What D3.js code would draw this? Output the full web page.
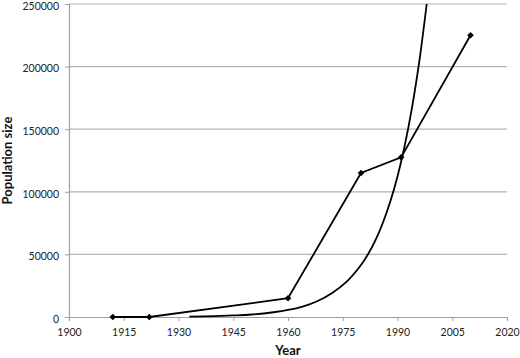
<!DOCTYPE html>
<html><head><meta charset="utf-8">
<script src="https://cdn.jsdelivr.net/npm/d3@7"></script>
<style>
html,body{margin:0;padding:0;background:#fff;}
svg{display:block;font-family:Lato,"Open Sans",sans-serif;}
</style></head>
<body>
<svg id="chart" width="520" height="358"></svg>
<script>
// Observed population (points with diamond markers)
const obsYears = [1912, 1922, 1960, 1980, 1991, 2010];
const obsValues = [0, 0, 15000, 115000, 127500, 225000];
// Model curve
const curveYears = [1933, 1940, 1945, 1950, 1956, 1960, 1964, 1968, 1972, 1976, 1980, 1982, 1984, 1986, 1988, 1990, 1992, 1994, 1996, 1998];
const curveValues = [300, 750, 1250, 2000, 3800, 5600, 8300, 12600, 19000, 28000, 41500, 50500, 61600, 75300, 92000, 112300, 137200, 167600, 204700, 250000];
const xTicks = [1900, 1915, 1930, 1945, 1960, 1975, 1990, 2005, 2020];
const yTicks = [0, 50000, 100000, 150000, 200000, 250000];

const svg = d3.select("#chart");
const mL = 69, mR = 507, mT = 4, mB = 317;
const x = d3.scaleLinear().domain([1900, 2020]).range([mL, mR]);
const y = d3.scaleLinear().domain([0, 250000]).range([mB, mT]);

// gridlines
svg.append("g").selectAll("line").data(yTicks.filter(d => d > 0)).join("line")
  .attr("x1", mL).attr("x2", mR)
  .attr("y1", d => y(d)).attr("y2", d => y(d))
  .attr("stroke", "#b4b4b4").attr("stroke-width", 1.2);

// y axis
const yAxis = svg.append("g").attr("transform", `translate(${mL},0)`)
  .call(d3.axisLeft(y).tickValues(yTicks).tickSize(4).tickPadding(6).tickFormat(d3.format("d")));
yAxis.select(".domain").attr("stroke", "#a0a0a0").attr("stroke-width", 1.2);
yAxis.selectAll(".tick line").attr("stroke", "#a0a0a0");
yAxis.selectAll("text").attr("font-size", 10.5).attr("dy", "0.5em").attr("fill", "#222").attr("font-family", "Lato,sans-serif");

// x axis
const xAxis = svg.append("g").attr("transform", `translate(0,${mB})`)
  .call(d3.axisBottom(x).tickValues(xTicks).tickSize(4).tickPadding(8).tickFormat(d3.format("d")));
xAxis.select(".domain").attr("stroke", "#a0a0a0").attr("stroke-width", 1.2);
xAxis.selectAll(".tick line").attr("stroke", "#a0a0a0");
xAxis.selectAll("text").attr("font-size", 10.5).attr("fill", "#222").attr("font-family", "Lato,sans-serif");

// clip
svg.append("clipPath").attr("id", "clip").append("rect")
  .attr("x", mL).attr("y", mT - 1).attr("width", mR - mL).attr("height", mB - mT + 2);

// model curve
const curveData = curveYears.map((t, i) => [t, curveValues[i]]);
svg.append("path").datum(curveData)
  .attr("clip-path", "url(#clip)")
  .attr("fill", "none").attr("stroke", "#000").attr("stroke-width", 1.8)
  .attr("d", d3.line().x(d => x(d[0])).y(d => y(d[1])).curve(d3.curveCatmullRom));

// observed line
const obsData = obsYears.map((t, i) => [t, obsValues[i]]);
svg.append("path").datum(obsData)
  .attr("fill", "none").attr("stroke", "#000").attr("stroke-width", 1.8)
  .attr("d", d3.line().x(d => x(d[0])).y(d => y(d[1])));

svg.append("g").selectAll("path").data(obsData).join("path")
  .attr("transform", d => `translate(${x(d[0])},${y(d[1])}) rotate(45)`)
  .attr("d", d3.symbol(d3.symbolSquare, 22))
  .attr("fill", "#000");

// axis titles
svg.append("text").attr("x", (mL + mR) / 2).attr("y", 355)
  .attr("text-anchor", "middle").attr("font-weight", "bold").attr("font-size", 13)
  .attr("fill", "#111").text("Year");
svg.append("text").attr("transform", `translate(12,${(mT + mB) / 2}) rotate(-90)`)
  .attr("text-anchor", "middle").attr("font-weight", "bold").attr("font-size", 13)
  .attr("fill", "#111").text("Population size");
</script>
</body></html>
